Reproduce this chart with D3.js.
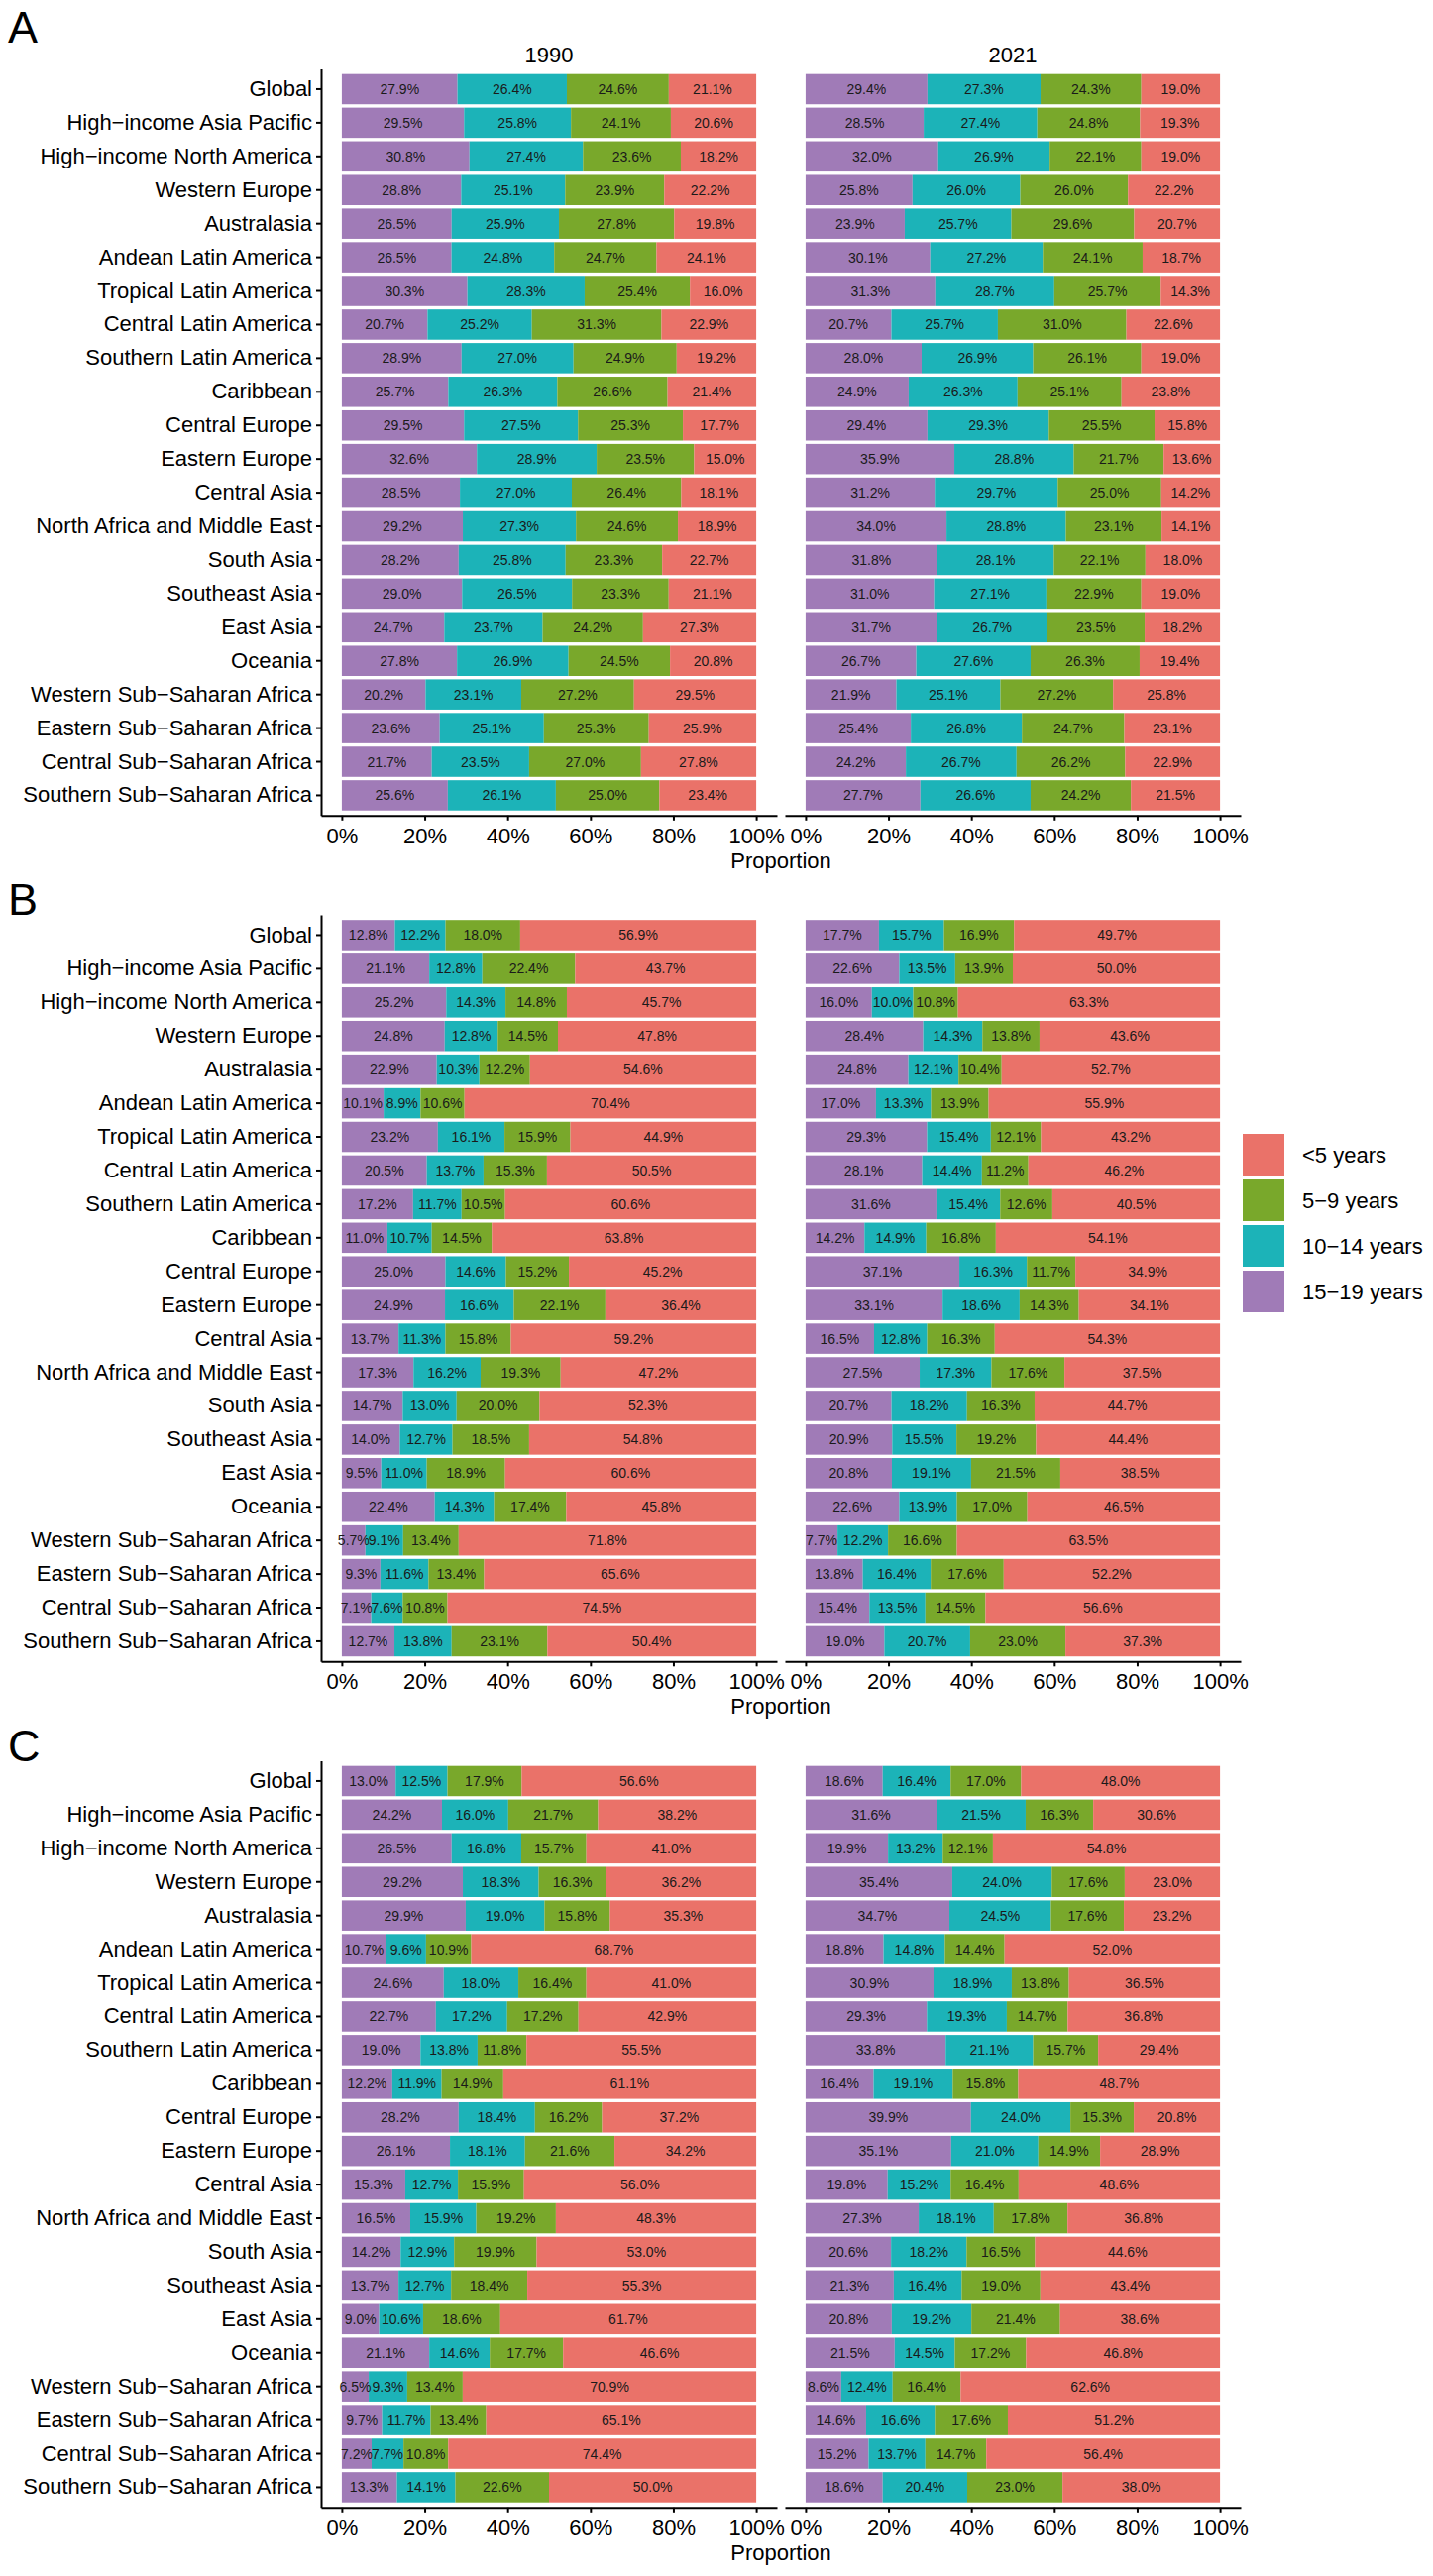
<!DOCTYPE html>
<html>
<head>
<meta charset="utf-8">
<script src="https://cdn.jsdelivr.net/npm/d3@7"></script>
<style>
body { margin: 0; background: #fff; }
text { font-family: "Liberation Sans", Arial, sans-serif; }
</style>
</head>
<body>
<script>
//categories
var regions = ["Global", "High\u2212income Asia Pacific", "High\u2212income North America", "Western Europe",
    "Australasia", "Andean Latin America", "Tropical Latin America", "Central Latin America",
    "Southern Latin America", "Caribbean", "Central Europe", "Eastern Europe", "Central Asia",
    "North Africa and Middle East", "South Asia", "Southeast Asia", "East Asia", "Oceania",
    "Western Sub\u2212Saharan Africa", "Eastern Sub\u2212Saharan Africa", "Central Sub\u2212Saharan Africa",
    "Southern Sub\u2212Saharan Africa"];
//stack order left to right
var ageGroups = ["15\u221219 years", "10\u221214 years", "5\u22129 years", "<5 years"];
var legendOrder = ["<5 years", "5\u22129 years", "10\u221214 years", "15\u221219 years"];
var years = ["1990", "2021"];
var xTicks = [0, 0.2, 0.4, 0.6, 0.8, 1];

//values per region: [15-19, 10-14, 5-9, <5] in percent
var panelA_1990 = [
    [27.9, 26.4, 24.6, 21.1], [29.5, 25.8, 24.1, 20.6], [30.8, 27.4, 23.6, 18.2], [28.8, 25.1, 23.9, 22.2],
    [26.5, 25.9, 27.8, 19.8], [26.5, 24.8, 24.7, 24.1], [30.3, 28.3, 25.4, 16.0], [20.7, 25.2, 31.3, 22.9],
    [28.9, 27.0, 24.9, 19.2], [25.7, 26.3, 26.6, 21.4], [29.5, 27.5, 25.3, 17.7], [32.6, 28.9, 23.5, 15.0],
    [28.5, 27.0, 26.4, 18.1], [29.2, 27.3, 24.6, 18.9], [28.2, 25.8, 23.3, 22.7], [29.0, 26.5, 23.3, 21.1],
    [24.7, 23.7, 24.2, 27.3], [27.8, 26.9, 24.5, 20.8], [20.2, 23.1, 27.2, 29.5], [23.6, 25.1, 25.3, 25.9],
    [21.7, 23.5, 27.0, 27.8], [25.6, 26.1, 25.0, 23.4]];
var panelA_2021 = [
    [29.4, 27.3, 24.3, 19.0], [28.5, 27.4, 24.8, 19.3], [32.0, 26.9, 22.1, 19.0], [25.8, 26.0, 26.0, 22.2],
    [23.9, 25.7, 29.6, 20.7], [30.1, 27.2, 24.1, 18.7], [31.3, 28.7, 25.7, 14.3], [20.7, 25.7, 31.0, 22.6],
    [28.0, 26.9, 26.1, 19.0], [24.9, 26.3, 25.1, 23.8], [29.4, 29.3, 25.5, 15.8], [35.9, 28.8, 21.7, 13.6],
    [31.2, 29.7, 25.0, 14.2], [34.0, 28.8, 23.1, 14.1], [31.8, 28.1, 22.1, 18.0], [31.0, 27.1, 22.9, 19.0],
    [31.7, 26.7, 23.5, 18.2], [26.7, 27.6, 26.3, 19.4], [21.9, 25.1, 27.2, 25.8], [25.4, 26.8, 24.7, 23.1],
    [24.2, 26.7, 26.2, 22.9], [27.7, 26.6, 24.2, 21.5]];
var panelB_1990 = [
    [12.8, 12.2, 18.0, 56.9], [21.1, 12.8, 22.4, 43.7], [25.2, 14.3, 14.8, 45.7], [24.8, 12.8, 14.5, 47.8],
    [22.9, 10.3, 12.2, 54.6], [10.1, 8.9, 10.6, 70.4], [23.2, 16.1, 15.9, 44.9], [20.5, 13.7, 15.3, 50.5],
    [17.2, 11.7, 10.5, 60.6], [11.0, 10.7, 14.5, 63.8], [25.0, 14.6, 15.2, 45.2], [24.9, 16.6, 22.1, 36.4],
    [13.7, 11.3, 15.8, 59.2], [17.3, 16.2, 19.3, 47.2], [14.7, 13.0, 20.0, 52.3], [14.0, 12.7, 18.5, 54.8],
    [9.5, 11.0, 18.9, 60.6], [22.4, 14.3, 17.4, 45.8], [5.7, 9.1, 13.4, 71.8], [9.3, 11.6, 13.4, 65.6],
    [7.1, 7.6, 10.8, 74.5], [12.7, 13.8, 23.1, 50.4]];
var panelB_2021 = [
    [17.7, 15.7, 16.9, 49.7], [22.6, 13.5, 13.9, 50.0], [16.0, 10.0, 10.8, 63.3], [28.4, 14.3, 13.8, 43.6],
    [24.8, 12.1, 10.4, 52.7], [17.0, 13.3, 13.9, 55.9], [29.3, 15.4, 12.1, 43.2], [28.1, 14.4, 11.2, 46.2],
    [31.6, 15.4, 12.6, 40.5], [14.2, 14.9, 16.8, 54.1], [37.1, 16.3, 11.7, 34.9], [33.1, 18.6, 14.3, 34.1],
    [16.5, 12.8, 16.3, 54.3], [27.5, 17.3, 17.6, 37.5], [20.7, 18.2, 16.3, 44.7], [20.9, 15.5, 19.2, 44.4],
    [20.8, 19.1, 21.5, 38.5], [22.6, 13.9, 17.0, 46.5], [7.7, 12.2, 16.6, 63.5], [13.8, 16.4, 17.6, 52.2],
    [15.4, 13.5, 14.5, 56.6], [19.0, 20.7, 23.0, 37.3]];
var panelC_1990 = [
    [13.0, 12.5, 17.9, 56.6], [24.2, 16.0, 21.7, 38.2], [26.5, 16.8, 15.7, 41.0], [29.2, 18.3, 16.3, 36.2],
    [29.9, 19.0, 15.8, 35.3], [10.7, 9.6, 10.9, 68.7], [24.6, 18.0, 16.4, 41.0], [22.7, 17.2, 17.2, 42.9],
    [19.0, 13.8, 11.8, 55.5], [12.2, 11.9, 14.9, 61.1], [28.2, 18.4, 16.2, 37.2], [26.1, 18.1, 21.6, 34.2],
    [15.3, 12.7, 15.9, 56.0], [16.5, 15.9, 19.2, 48.3], [14.2, 12.9, 19.9, 53.0], [13.7, 12.7, 18.4, 55.3],
    [9.0, 10.6, 18.6, 61.7], [21.1, 14.6, 17.7, 46.6], [6.5, 9.3, 13.4, 70.9], [9.7, 11.7, 13.4, 65.1],
    [7.2, 7.7, 10.8, 74.4], [13.3, 14.1, 22.6, 50.0]];
var panelC_2021 = [
    [18.6, 16.4, 17.0, 48.0], [31.6, 21.5, 16.3, 30.6], [19.9, 13.2, 12.1, 54.8], [35.4, 24.0, 17.6, 23.0],
    [34.7, 24.5, 17.6, 23.2], [18.8, 14.8, 14.4, 52.0], [30.9, 18.9, 13.8, 36.5], [29.3, 19.3, 14.7, 36.8],
    [33.8, 21.1, 15.7, 29.4], [16.4, 19.1, 15.8, 48.7], [39.9, 24.0, 15.3, 20.8], [35.1, 21.0, 14.9, 28.9],
    [19.8, 15.2, 16.4, 48.6], [27.3, 18.1, 17.8, 36.8], [20.6, 18.2, 16.5, 44.6], [21.3, 16.4, 19.0, 43.4],
    [20.8, 19.2, 21.4, 38.6], [21.5, 14.5, 17.2, 46.8], [8.6, 12.4, 16.4, 62.6], [14.6, 16.6, 17.6, 51.2],
    [15.2, 13.7, 14.7, 56.4], [18.6, 20.4, 23.0, 38.0]];

(function(){

var width = 1446, height = 2599;

var color = d3.scaleOrdinal()
    .domain(ageGroups)
    .range(["#a07bb7", "#1cb3b8", "#79a82b", "#ea7269"]);

var svg = d3.select("body").append("svg")
    .attr("width", width)
    .attr("height", height);

svg.append("rect").attr("width", width).attr("height", height).attr("fill", "#fff");

//facet x positions
var facets = [[324, 784], [792, 1252]];

var panels = [
    {label: "A", data: [panelA_1990, panelA_2021], top: 69.6, labelY: 43, strips: true},
    {label: "B", data: [panelB_1990, panelB_2021], top: 923.1, labelY: 923, strips: false},
    {label: "C", data: [panelC_1990, panelC_2021], top: 1776.6, labelY: 1777, strips: false}
];
var panelH = 753.2;

panels.forEach(function(p){
    var g = svg.append("g");

    g.append("text")
        .attr("x", 8)
        .attr("y", p.labelY)
        .style("font-size", "45px")
        .text(p.label);

    var y = d3.scaleBand()
        .domain(regions)
        .range([p.top, p.top + panelH])
        .paddingInner(0.1)
        .paddingOuter(0.15);

    p.data.forEach(function(rows, fi){
        var x = d3.scaleLinear()
            .domain([-0.05, 1.05])
            .range(facets[fi]);

        //stack each row
        var stacked = [];
        rows.forEach(function(vals, ri){
            var sum = d3.sum(vals), acc = 0;
            vals.forEach(function(v, k){
                stacked.push({region: regions[ri], group: ageGroups[k], x0: acc / sum, x1: (acc + v) / sum, value: v});
                acc += v;
            });
        });

        var fg = g.append("g");

        fg.selectAll(".seg")
            .data(stacked)
            .enter()
            .append("rect")
            .attr("class", "seg")
            .attr("x", function(d){ return x(d.x0); })
            .attr("width", function(d){ return x(d.x1) - x(d.x0); })
            .attr("y", function(d){ return y(d.region); })
            .attr("height", y.bandwidth())
            .attr("fill", function(d){ return color(d.group); });

        fg.selectAll(".lab")
            .data(stacked)
            .enter()
            .append("text")
            .attr("class", "lab")
            .attr("text-anchor", "middle")
            .attr("x", function(d){ return x((d.x0 + d.x1) / 2); })
            .attr("y", function(d){ return y(d.region) + y.bandwidth() / 2 + 5; })
            .style("font-size", "14px")
            .style("fill", "#1a1a1a")
            .text(function(d){ return d.value.toFixed(1) + "%"; });

        //x axis
        var xa = fg.append("g")
            .attr("transform", "translate(0," + (p.top + panelH) + ")")
            .call(d3.axisBottom(x).tickValues(xTicks).tickFormat(d3.format(".0%")).tickSize(5).tickSizeOuter(0));
        xa.select(".domain").attr("stroke", "#000").attr("stroke-width", 2);
        xa.selectAll(".tick line").attr("stroke", "#000").attr("stroke-width", 2);
        xa.selectAll(".tick text").attr("dy", null).attr("y", 28).style("font-size", "22px").style("font-family", "Liberation Sans, Arial, sans-serif").attr("fill", "#000");

        if (p.strips) {
            g.append("text")
                .attr("x", (facets[fi][0] + facets[fi][1]) / 2)
                .attr("y", p.top - 7)
                .attr("text-anchor", "middle")
                .style("font-size", "22px")
                .text(years[fi]);
        }
    });

    //y axis on the first facet only
    var ya = g.append("g")
        .attr("transform", "translate(" + facets[0][0] + ",0)")
        .call(d3.axisLeft(y).tickSize(5).tickSizeOuter(0));
    ya.select(".domain").attr("stroke", "#000").attr("stroke-width", 2);
    ya.selectAll(".tick line").attr("stroke", "#000").attr("stroke-width", 2);
    ya.selectAll(".tick text").attr("x", -9).style("font-size", "22px").style("font-family", "Liberation Sans, Arial, sans-serif").attr("fill", "#000");

    g.append("text")
        .attr("x", (facets[0][0] + facets[1][1]) / 2)
        .attr("y", p.top + panelH + 53)
        .attr("text-anchor", "middle")
        .style("font-size", "22px")
        .text("Proportion");
});

//legend
var legend = svg.append("g").attr("transform", "translate(1254,1144)");
legendOrder.forEach(function(k, i){
    legend.append("rect")
        .attr("x", 0)
        .attr("y", i * 46)
        .attr("width", 42)
        .attr("height", 42)
        .attr("fill", color(k));
    legend.append("text")
        .attr("x", 60)
        .attr("y", i * 46 + 21 + 8)
        .style("font-size", "22px")
        .text(k);
});

})();
</script>
</body>
</html>
